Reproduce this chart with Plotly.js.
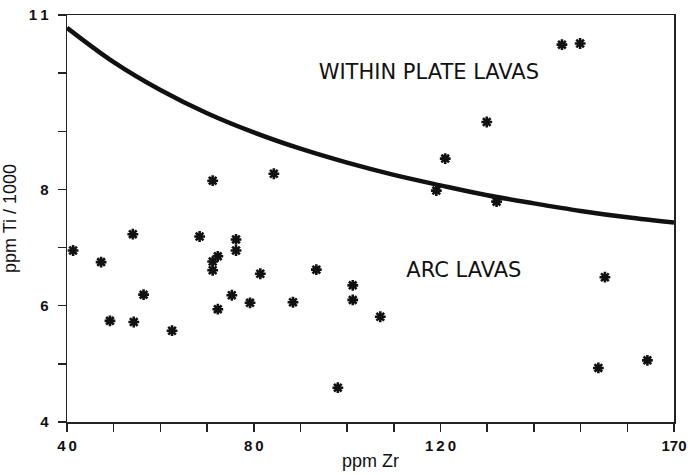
<!DOCTYPE html>
<html>
<head>
<meta charset="utf-8">
<script src="https://cdn.plot.ly/plotly-3.0.1.min.js"></script>
<style>html,body{margin:0;padding:0;background:#fff;}#chart{width:688px;height:475px;}</style>
</head>
<body>
<div id="chart"></div>
<script>
// Sample points: Zr (ppm) and Ti/1000 (ppm)
const zr = [41.3, 47.3, 49.2, 54.1, 54.3, 56.4, 62.5, 68.4, 71.2, 71.2, 71.2, 72.3, 72.3, 75.3, 76.2, 76.2, 79.2, 81.4, 84.3, 88.4, 93.4, 98.0, 101.2, 101.2, 107.1, 119.1, 121.0, 129.9, 132.0, 146.0, 149.9, 153.8, 155.2, 164.3];
const ti = [6.95, 6.75, 5.74, 7.23, 5.72, 6.19, 5.57, 7.19, 8.15, 6.76, 6.61, 6.85, 5.94, 6.18, 7.14, 6.95, 6.05, 6.55, 8.27, 6.06, 6.62, 4.59, 6.35, 6.10, 5.81, 7.98, 8.53, 9.16, 7.79, 10.49, 10.51, 4.93, 6.49, 5.06];

// Discriminant boundary
const lineZr = [40, 50, 60, 70, 80, 90, 100, 110, 120, 130, 140, 150, 160, 170];
const lineTi = [10.78, 10.19, 9.71, 9.31, 8.98, 8.70, 8.46, 8.25, 8.07, 7.90, 7.76, 7.63, 7.52, 7.43];

// Axis ticks
const xTickVals = [40, 50, 60, 70, 80, 90, 100, 110, 120, 130, 140, 150, 160, 170];
const xTickText = ["4\u20090", "", "", "", "8\u20090", "", "", "", "1\u20092\u20090", "", "", "", "", "170"];
const yTickVals = [4, 5, 6, 7, 8, 9, 10, 11];
const yTickText = ["4", "", "6", "", "8", "", "", "1\u20091"];

// Field labels
const fieldNames = ["WITHIN PLATE LAVAS", "ARC LAVAS"];
const fieldZr = [117.5, 125.0];
const fieldTi = [9.99, 6.58];

const traces = [
  {
    x: lineZr, y: lineTi, type: 'scatter', mode: 'lines',
    line: {color: '#111', width: 4.5, shape: 'spline', smoothing: 1},
    hoverinfo: 'skip', showlegend: false
  },
  {
    x: zr, y: ti, type: 'scatter', mode: 'markers',
    marker: {symbol: 'asterisk', size: 9, color: '#111', line: {color: '#111', width: 2.6}},
    showlegend: false
  },
  {
    x: fieldZr, y: fieldTi, type: 'scatter', mode: 'text',
    text: fieldNames, textposition: 'middle center',
    textfont: {family: 'DejaVu Sans, sans-serif', size: 21, color: '#111'},
    hoverinfo: 'skip', showlegend: false
  }
];

const axisCommon = {
  showgrid: false, zeroline: false, showline: true, mirror: true,
  linecolor: '#222', linewidth: 1.5,
  ticks: 'outside', ticklen: 8, tickwidth: 1.5, tickcolor: '#222',
  tickfont: {family: 'Liberation Sans, Arial, sans-serif', size: 15, color: '#111', weight: 'bold'}
};

const layout = {
  width: 688, height: 475,
  margin: {l: 67, r: 14, t: 15, b: 53},
  paper_bgcolor: '#fff', plot_bgcolor: '#fff',
  xaxis: Object.assign({}, axisCommon, {
    range: [40, 170], tickmode: 'array', tickvals: xTickVals, ticktext: xTickText,
    ticklabelstandoff: 1, ticklabeloverflow: 'allow',
    title: {text: 'ppm Zr', font: {family: 'Liberation Sans, Arial, sans-serif', size: 18, color: '#111'}, standoff: 2}
  }),
  yaxis: Object.assign({}, axisCommon, {
    range: [4, 11], tickmode: 'array', tickvals: yTickVals, ticktext: yTickText,
    ticklabelstandoff: 6,
    title: {text: 'ppm Ti / 1000', font: {family: 'Liberation Sans, Arial, sans-serif', size: 18, color: '#111'}, standoff: 8}
  })
};

Plotly.newPlot('chart', traces, layout, {displayModeBar: false, staticPlot: true});
</script>
</body>
</html>
